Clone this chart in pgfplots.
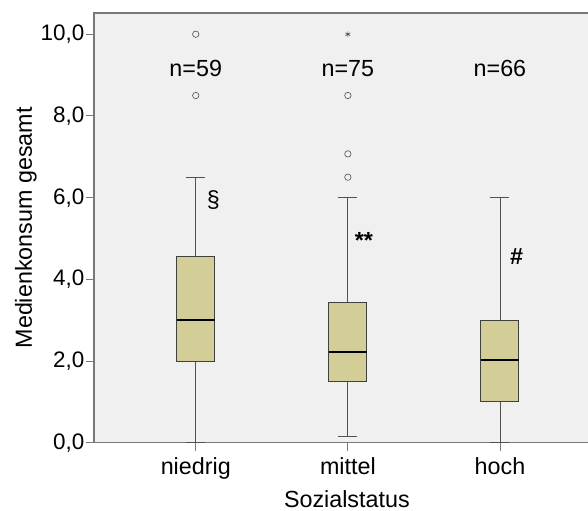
\documentclass[border=0pt]{standalone}
\usepackage{pgfplots}
\pgfplotsset{compat=1.18}
\usepgfplotslibrary{statistics}
\usepackage{fontspec}
\setmainfont{Liberation Sans}
\definecolor{boxcol}{RGB}{211,206,152}
\definecolor{bgcol}{RGB}{240,240,240}
\definecolor{axcol}{RGB}{120,120,120}
\definecolor{whcol}{RGB}{80,80,80}
\newcommand{\tickf}{\fontsize{22.5}{27}\selectfont}
\newcommand{\labf}{\fontsize{23.4}{28}\selectfont}
\begin{document}
\begin{tikzpicture}
\begin{axis}[name=ax, at={(0,0)}, anchor=south west,
 scale only axis, width=507.7bp, height=429.7bp,
 xmin=0.331, xmax=3.669, ymin=0, ymax=10.52,
 axis background/.style={fill=bgcol},
 axis line style={axcol, line width=1.2pt},
 xtick={1,2,3}, xticklabels={niedrig,mittel,hoch},
 ytick={0,2,4,6,8,10},
 xtick pos=bottom, ytick pos=left,
 tick align=outside, major tick length=8bp,
 tick style={axcol, line width=0.9pt},
 /pgf/number format/assume math mode=true,
 yticklabel={\pgfmathprintnumber[fixed, fixed zerofill, precision=1, use comma]{\tick}},
 yticklabel style={font=\tickf, inner sep=1.5bp},
 xticklabel style={font=\labf, inner sep=2bp, yshift=-5bp},
 xlabel={Sozialstatus}, ylabel={Medienkonsum gesamt},
 label style={font=\labf},
 xlabel style={yshift=-5.5bp, xshift=-1bp},
 ylabel style={yshift=-1bp},
 boxplot/draw direction=y,
 boxplot/box extend=0.25,
 boxplot/whisker extend=0.125,
 boxplot/every box/.style={draw=black!75, line width=1pt, fill=boxcol},
 boxplot/every whisker/.style={draw=whcol, line width=0.9pt},
 boxplot/every median/.style={draw=black, line width=1.8pt},
 clip=false,
]
\addplot[boxplot prepared={lower whisker=0, lower quartile=2.0, median=3.0, upper quartile=4.57, upper whisker=6.5, draw position=1},
  mark=o, mark size=3.2bp, mark options={draw=black!70, line width=0.6pt}]
  table[row sep=\\, y index=0]{8.5\\ 10.0\\};
\addplot[boxplot prepared={lower whisker=0.16, lower quartile=1.5, median=2.22, upper quartile=3.44, upper whisker=6.0, draw position=2},
  mark=o, mark size=3.2bp, mark options={draw=black!70, line width=0.6pt}]
  table[row sep=\\, y index=0]{6.5\\ 7.07\\ 8.5\\};
\addplot[boxplot prepared={lower whisker=0, lower quartile=1.0, median=2.02, upper quartile=3.0, upper whisker=6.0, draw position=3}]
  coordinates {};
\addplot[only marks, mark=asterisk, mark size=2.8bp, mark options={draw=black!75, line width=0.6pt}]
  coordinates {(2,10.0)};
\node[font=\labf] at (axis cs:1,9.15) {n=59};
\node[font=\labf] at (axis cs:2,9.15) {n=75};
\node[font=\labf] at (axis cs:3,9.15) {n=66};
\node[font=\labf] at (axis cs:1.115,5.95) {§};
\node[font=\labf\bfseries] at (axis cs:2.105,4.95) {**};
\node[font=\labf\bfseries] at (axis cs:3.11,4.55) {\#};
\end{axis}
\pgfresetboundingbox
\path[use as bounding box] (-94bp,-68.3bp) rectangle (494bp,442.7bp);
\end{tikzpicture}
\end{document}
